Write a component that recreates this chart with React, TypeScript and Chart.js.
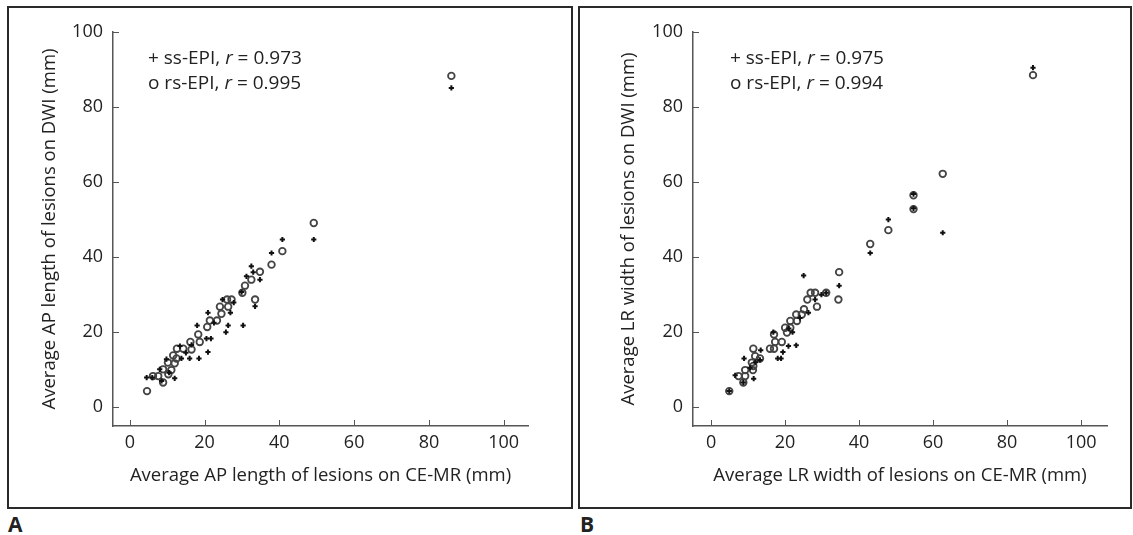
import React, { useEffect, useRef } from "react";
import { Chart, registerables } from "chart.js";

Chart.register(...registerables);

// ---- data ----
const tickValues = [0, 20, 40, 60, 80, 100];

// Panel A: AP length (x: CE-MR, y: DWI)
const apSsEpi: [number, number][] = [
  [86, 85.1], [49.2, 44.7], [40.8, 44.7], [37.9, 41.1], [32.5, 37.6], [33.0, 36.0],
  [31.2, 34.9], [34.8, 34.0], [29.9, 30.7], [33.5, 26.9], [24.8, 28.7], [26.9, 25.2],
  [20.9, 25.2], [18.0, 21.8], [26.3, 21.8], [30.3, 21.8], [25.7, 20.0], [20.5, 18.3],
  [21.7, 18.3], [13.4, 16.3], [16.5, 16.6], [20.9, 14.7], [13.8, 13.0], [16.0, 13.0],
  [18.5, 13.0], [9.8, 12.8], [8.0, 10.1], [10.5, 9.2], [4.5, 7.9], [6.0, 7.9],
  [12.0, 7.7], [8.5, 7.0], [22.5, 22.5], [27.8, 27.9], [15.0, 14.5],
];
const apRsEpi: [number, number][] = [
  [86, 88.3], [49.2, 49.1], [40.8, 41.6], [37.9, 38.0], [34.8, 36.1], [32.5, 34.0],
  [30.8, 32.4], [30.1, 30.5], [33.5, 28.7], [26.0, 28.7], [27.2, 28.7], [24.1, 26.8],
  [26.3, 26.8], [24.5, 24.9], [23.3, 23.1], [21.4, 23.1], [20.7, 21.4], [18.3, 19.4],
  [18.7, 17.4], [16.2, 17.4], [14.3, 15.6], [12.6, 15.6], [16.5, 15.4], [11.6, 13.8],
  [12.5, 13.0], [10.2, 11.9], [12.0, 11.7], [8.9, 10.1], [11.1, 9.9], [10.3, 8.8],
  [6.2, 8.3], [7.6, 8.3], [8.9, 6.6], [4.6, 4.3],
];

// Panel B: LR width (x: CE-MR, y: DWI)
const lrSsEpi: [number, number][] = [
  [87, 90.5], [62.6, 46.5], [54.7, 56.8], [54.7, 53.0], [47.9, 50.0], [43.0, 41.1],
  [34.6, 32.4], [25.0, 35.1], [31.1, 30.5], [28.1, 28.7], [26.3, 25.2], [24.0, 23.8],
  [23.0, 16.5], [20.9, 16.3], [19.4, 14.7], [18.9, 13.0], [18.0, 13.0], [13.4, 15.2],
  [13.2, 12.6], [8.9, 13.0], [11.5, 7.6], [6.5, 8.5], [8.7, 6.6], [4.9, 4.3],
  [21.0, 21.0], [22.0, 20.0], [16.8, 20.0], [10.5, 10.5], [12.0, 12.0], [29.8, 30.0],
];
const lrRsEpi: [number, number][] = [
  [87, 88.5], [62.6, 62.2], [54.7, 56.5], [54.7, 52.8], [47.9, 47.2], [43.0, 43.5],
  [34.6, 36.0], [34.4, 28.7], [26.9, 30.5], [28.1, 30.5], [31.1, 30.5], [26.0, 28.7],
  [28.6, 26.8], [25.1, 26.1], [24.5, 24.7], [23.0, 24.7], [21.4, 23.0], [23.2, 23.0],
  [20.0, 21.2], [21.4, 21.2], [20.5, 19.9], [17.0, 19.4], [17.3, 17.4], [19.1, 17.4],
  [15.9, 15.6], [17.0, 15.6], [11.4, 15.6], [11.9, 13.6], [13.2, 13.0], [11.0, 11.9],
  [11.4, 11.0], [9.2, 9.9], [11.3, 9.9], [7.4, 8.3], [9.2, 8.3], [8.7, 6.6], [4.9, 4.3],
];

const FONT = "'Open Sans', 'DejaVu Sans', sans-serif";
const TEXT = "#222";
const AXIS = "#555";

const inwardTicks = {
  id: "inwardTicks",
  afterDraw(chart: any) {
    const { ctx, chartArea, scales } = chart;
    ctx.save();
    ctx.strokeStyle = AXIS;
    ctx.lineWidth = 1;
    ctx.beginPath();
    scales.x.ticks.forEach((t: any) => {
      const px = Math.round(scales.x.getPixelForValue(t.value)) + 0.5;
      ctx.moveTo(px, chartArea.bottom);
      ctx.lineTo(px, chartArea.bottom - 6);
    });
    scales.y.ticks.forEach((t: any) => {
      const py = Math.round(scales.y.getPixelForValue(t.value)) + 0.5;
      ctx.moveTo(chartArea.left, py);
      ctx.lineTo(chartArea.left + 6, py);
    });
    ctx.stroke();
    ctx.restore();
  },
};

type PanelProps = {
  left: number;
  width: number;
  height: number;
  yScaleWidth: number;
  padRight: number;
  yTitlePad: number;
  xMin: number;
  xMax: number;
  xTitle: string;
  yTitle: string;
  ss: [number, number][];
  rs: [number, number][];
};

function Panel(p: PanelProps) {
  const ref = useRef<HTMLCanvasElement | null>(null);
  useEffect(() => {
    if (!ref.current) return;
    const chart = new Chart(ref.current, {
      type: "scatter",
      data: {
        datasets: [
          {
            label: "ss-EPI",
            data: p.ss.map(([x, y]) => ({ x, y })),
            pointStyle: "cross",
            pointRadius: 2.6,
            pointBorderWidth: 2,
            borderColor: "#111",
            backgroundColor: "#111",
          },
          {
            label: "rs-EPI",
            data: p.rs.map(([x, y]) => ({ x, y })),
            pointStyle: "circle",
            pointRadius: 3.3,
            pointBorderWidth: 1.8,
            borderColor: "#444",
            backgroundColor: "rgba(0,0,0,0)",
          },
        ],
      },
      options: {
        responsive: false,
        animation: false,
        events: [],
        layout: { padding: { top: 32, right: p.padRight, left: 0, bottom: 0 } },
        plugins: { legend: { display: false }, tooltip: { enabled: false } },
        scales: {
          x: {
            type: "linear",
            min: p.xMin,
            max: p.xMax,
            afterBuildTicks: (s: any) => {
              s.ticks = tickValues.map((v) => ({ value: v }));
            },
            afterFit: (s: any) => {
              s.height = 84;
            },
            grid: { display: false, drawTicks: false, tickLength: 0 },
            border: { display: true, color: AXIS, width: 1.5 },
            ticks: {
              padding: 6,
              color: TEXT,
              font: { family: FONT, size: 18 },
              maxRotation: 0,
              autoSkip: false,
            },
            title: {
              display: true,
              text: p.xTitle,
              color: TEXT,
              font: { family: FONT, size: 18.5 },
              padding: { top: 0, bottom: 23 },
            },
          },
          y: {
            type: "linear",
            min: -5,
            max: 100,
            afterBuildTicks: (s: any) => {
              s.ticks = tickValues.map((v) => ({ value: v }));
            },
            afterFit: (s: any) => {
              s.width = p.yScaleWidth;
            },
            grid: { display: false, drawTicks: false, tickLength: 0 },
            border: { display: true, color: AXIS, width: 1.5 },
            ticks: {
              padding: 10,
              color: TEXT,
              font: { family: FONT, size: 18 },
              autoSkip: false,
            },
            title: {
              display: true,
              text: p.yTitle,
              color: TEXT,
              font: { family: FONT, size: 18.5 },
              padding: { top: p.yTitlePad, bottom: 0 },
            },
          },
        },
      },
      plugins: [inwardTicks],
    } as any);
    return () => chart.destroy();
  }, []);
  return (
    <canvas
      ref={ref}
      width={p.width}
      height={p.height}
      style={{ position: "absolute", left: p.left, top: 0, width: p.width, height: p.height }}
    />
  );
}

function Legend({ left, r1, r2 }: { left: number; r1: string; r2: string }) {
  return (
    <div
      style={{
        position: "absolute",
        left,
        top: 45,
        fontFamily: FONT,
        fontSize: 19,
        lineHeight: "24.5px",
        color: TEXT,
        whiteSpace: "pre",
      }}
    >
      <div>
        + ss-EPI, <i>r</i> = {r1}
      </div>
      <div>
        o rs-EPI, <i>r</i> = {r2}
      </div>
    </div>
  );
}

export default function App() {
  const frame = (left: number, width: number): React.CSSProperties => ({
    position: "absolute",
    left,
    top: 6,
    width,
    height: 503,
    border: "2px solid #2a2a2a",
    boxSizing: "border-box",
  });
  const panelLabel = (left: number): React.CSSProperties => ({
    position: "absolute",
    left,
    top: 511,
    fontFamily: FONT,
    fontWeight: 700,
    fontSize: 21,
    lineHeight: "26px",
    color: TEXT,
  });
  return (
    <div style={{ position: "absolute", left: 0, top: 0, width: 1133, height: 535, background: "#fff" }}>
      <div style={frame(7, 566)} />
      <div style={frame(578, 554)} />
      <Panel
        left={0}
        width={575}
        height={510}
        yScaleWidth={113}
        padRight={47}
        yTitlePad={39}
        xMin={-4.5}
        xMax={106.5}
        xTitle="Average AP length of lesions on CE-MR (mm)"
        yTitle="Average AP length of lesions on DWI (mm)"
        ss={apSsEpi}
        rs={apRsEpi}
      />
      <Panel
        left={575}
        width={558}
        height={510}
        yScaleWidth={118}
        padRight={26}
        yTitlePad={43}
        xMin={-4.9}
        xMax={107}
        xTitle="Average LR width of lesions on CE-MR (mm)"
        yTitle="Average LR width of lesions on DWI (mm)"
        ss={lrSsEpi}
        rs={lrRsEpi}
      />
      <Legend left={148} r1="0.973" r2="0.995" />
      <Legend left={730} r1="0.975" r2="0.994" />
      <div style={panelLabel(8)}>A</div>
      <div style={panelLabel(580)}>B</div>
    </div>
  );
}
